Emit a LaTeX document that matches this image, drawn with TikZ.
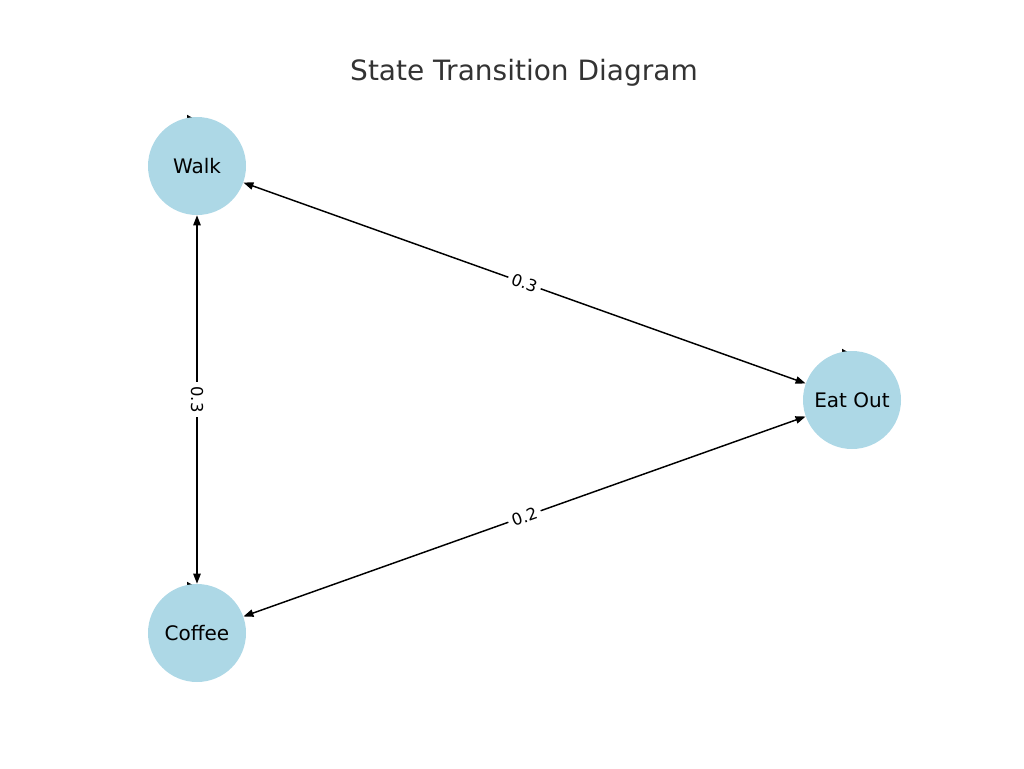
\documentclass[tikz,border=0pt]{standalone}
\usepackage{fontspec}
\setmainfont{DejaVu Sans}
\definecolor{lightblue}{RGB}{173,216,230}
\usetikzlibrary{arrows.meta}
\pgfdeclarelayer{bg}
\pgfsetlayers{bg,main}

\begin{document}
\begin{tikzpicture}[x=0.75pt,y=-0.75pt,
  state/.style={circle,fill=lightblue,minimum size=73.5pt,inner sep=0pt,font=\fontsize{15}{18}\selectfont},
  trans/.style={draw,line width=1.1pt,{Triangle[length=7.5pt,width=5.5pt]}-{Triangle[length=7.5pt,width=5.5pt]}},
  prob/.style={fill=white,inner sep=3pt,font=\fontsize{12.3}{14}\selectfont}]
\useasboundingbox (0,0) rectangle (1024,768);
\node[font=\fontsize{21}{25}\selectfont,text=black!80] (title) at (524,73) {State Transition Diagram};
\node[state] (walk) at (197,166) {Walk};
\node[state] (eatout) at (852,400) {Eat Out};
\node[state] (coffee) at (197,633) {Coffee};
% self loops, only the tips show
\begin{pgfonlayer}{bg}
\foreach \s in {walk,eatout,coffee}
  \fill ([shift={(-10,-2)}]\s.north) -- ([shift={(-3,2)}]\s.north) -- ([shift={(-10,4)}]\s.north) -- cycle;
\end{pgfonlayer}
\draw[trans] (walk) -- node[prob,sloped] {0.3} (eatout);
\draw[trans] (walk) -- node[prob,rotate=-90] {0.3} (coffee);
\draw[trans] (coffee) -- node[prob,sloped] {0.2} (eatout);
\end{tikzpicture}
\end{document}
